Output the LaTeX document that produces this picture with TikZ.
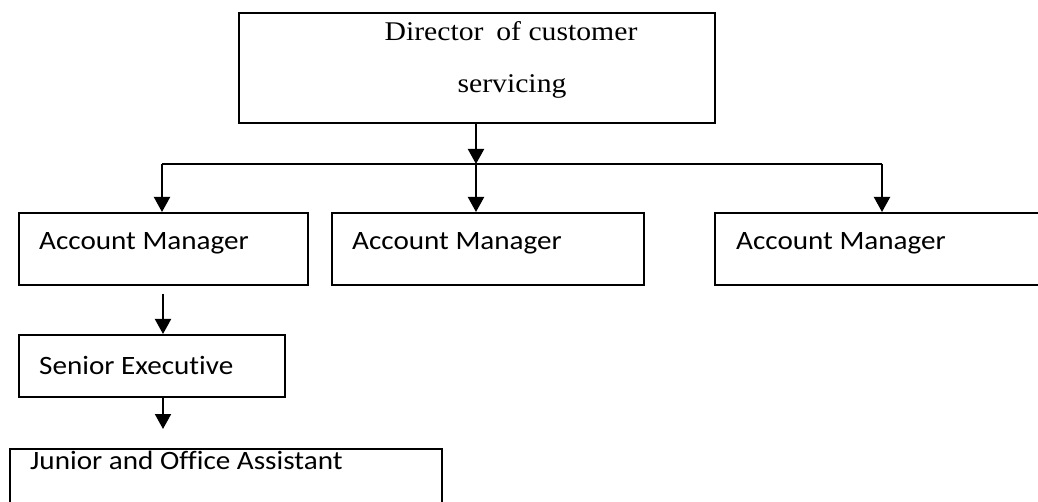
\documentclass[tikz,border=0pt]{standalone}
\usepackage{fontspec}
\setmainfont{Carlito}[Ligatures=NoCommon, FakeStretch=1.1]
\newfontfamily\serifface{Liberation Serif}[FakeStretch=1.1]
\usetikzlibrary{arrows.meta,calc}
\begin{document}
\begin{tikzpicture}[x=1pt,y=-1pt,
  box/.style={draw, line width=2pt, rectangle, inner sep=0pt, anchor=north west},
  lbl/.style={anchor=base west, inner sep=0pt, font=\fontsize{26.5}{32}\selectfont},
  ttl/.style={anchor=base, inner sep=0pt, font=\serifface\fontsize{27}{32}\selectfont},
  link/.style={line width=2pt, -{Triangle[width=16pt,length=15pt]}},
  wire/.style={line width=2pt}]
\useasboundingbox (0,0) rectangle (1038,502);
\clip (0,0) rectangle (1038,502);

% boxes
\node[box, minimum width=476pt, minimum height=110pt] (dir) at (238,12) {};
\node[box, minimum width=289pt, minimum height=72pt] (am1) at (18,212) {};
\node[box, minimum width=312pt, minimum height=72pt] (am2) at (331,212) {};
\node[box, minimum width=330pt, minimum height=72pt] (am3) at (714,212) {};
\node[box, minimum width=266pt, minimum height=62pt] (se) at (18,334) {};
\node[box, minimum width=432pt, minimum height=80pt] (ja) at (9,448) {};

% labels
\node[ttl] (dirt1) at (511,41) {Director\hspace{0.2em} of customer};
\node[ttl] (dirt2) at (512,93) {servicing};
\node[lbl] (am1t) at (39,250) {Account Manager};
\node[lbl] (am2t) at (352,250) {Account Manager};
\node[lbl] (am3t) at (736,250) {Account Manager};
\node[lbl] (set) at (39,374) {Senior Executive};
\node[lbl] (jat) at (30,469) {Junior and Office Assistant};

% connector points
\coordinate (dsrc) at (476,124);
\coordinate (bus) at (476,164);
\coordinate (busl) at (162,164);
\coordinate (busr) at (882,164);
\coordinate (am1in) at (162,212);
\coordinate (am2in) at (476,212);
\coordinate (am3in) at (882,212);
\coordinate (am1out) at (163,294);
\coordinate (sein) at (163,334);
\coordinate (seout) at (163,396);
\coordinate (jain) at (163,429);

% connectors
\draw[link] (dsrc) -- (bus);
\draw[wire] (busl) -- (busr);
\draw[link] (busl) -- (am1in);
\draw[link] (bus) -- (am2in);
\draw[link] (busr) -- (am3in);
\draw[link] (am1out) -- (sein);
\draw[link] (seout) -- (jain);
\end{tikzpicture}
\end{document}
